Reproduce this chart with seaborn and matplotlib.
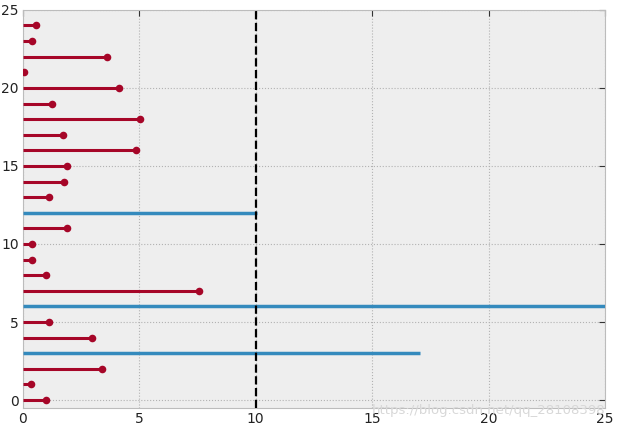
import numpy as np
import pandas as pd
import seaborn as sns
import matplotlib.pyplot as plt

# lollipop values, index = row
values = [1.0, 0.33, 3.40, 17.07, 2.99, 1.14, 30.0, 7.57, 0.99, 0.39,
          0.40, 1.90, 10.05, 1.13, 1.76, 1.88, 4.84, 1.72, 5.03, 1.26,
          4.11, 0.07, 3.62, 0.40, 0.55]
threshold = 10
outlier_rows = [3, 6, 12]

df = pd.DataFrame({"row": np.arange(len(values)), "value": values})
df["outlier"] = df["row"].isin(outlier_rows)
normal = df[~df["outlier"]]
outl = df[df["outlier"]]

sns.set_style("darkgrid")
plt.rcParams.update({
    "axes.facecolor": "#eeeeee",
    "axes.edgecolor": "#bcbcbc",
    "grid.color": "#b2b2b2",
    "grid.linestyle": ":",
    "grid.linewidth": 0.8,
    "xtick.direction": "in",
    "ytick.direction": "in",
    "font.family": ["DejaVu Sans"],
})

fig, ax = plt.subplots(figsize=(6.18, 4.28), dpi=100)
fig.subplots_adjust(left=0.037, right=0.979, top=0.977, bottom=0.047)

ax.hlines(normal["row"], 0, normal["value"], color="#A60628", lw=2.2, zorder=3)
sns.scatterplot(data=normal, x="value", y="row", color="#A60628", s=30,
                edgecolor="#A60628", linewidth=0, ax=ax, zorder=4)
ax.hlines(outl["row"], 0, outl["value"], color="#348ABD", lw=2.5, zorder=3)
ax.axvline(threshold, color="black", ls="--", lw=1.6, zorder=5)

ax.set_xlim(0, 25)
ax.set_ylim(-0.5, 25)
ax.set_xticks([0, 5, 10, 15, 20, 25])
ax.set_yticks([0, 5, 10, 15, 20, 25])
ax.tick_params(labelsize=10, colors="#333333", length=4, width=0.8,
               top=True, right=True, pad=3)
for lab in ax.get_xticklabels() + ax.get_yticklabels():
    lab.set_color("#222222")
ax.set_xlabel("")
ax.set_ylabel("")
for s in ax.spines.values():
    s.set_visible(True)
    s.set_color("#bcbcbc")

fig.text(0.979, 0.04, "https://blog.csdn.net/qq_28108398", ha="right",
         va="center", fontsize=9.5, color="#d8d8d8")

fig.savefig("out.png")
